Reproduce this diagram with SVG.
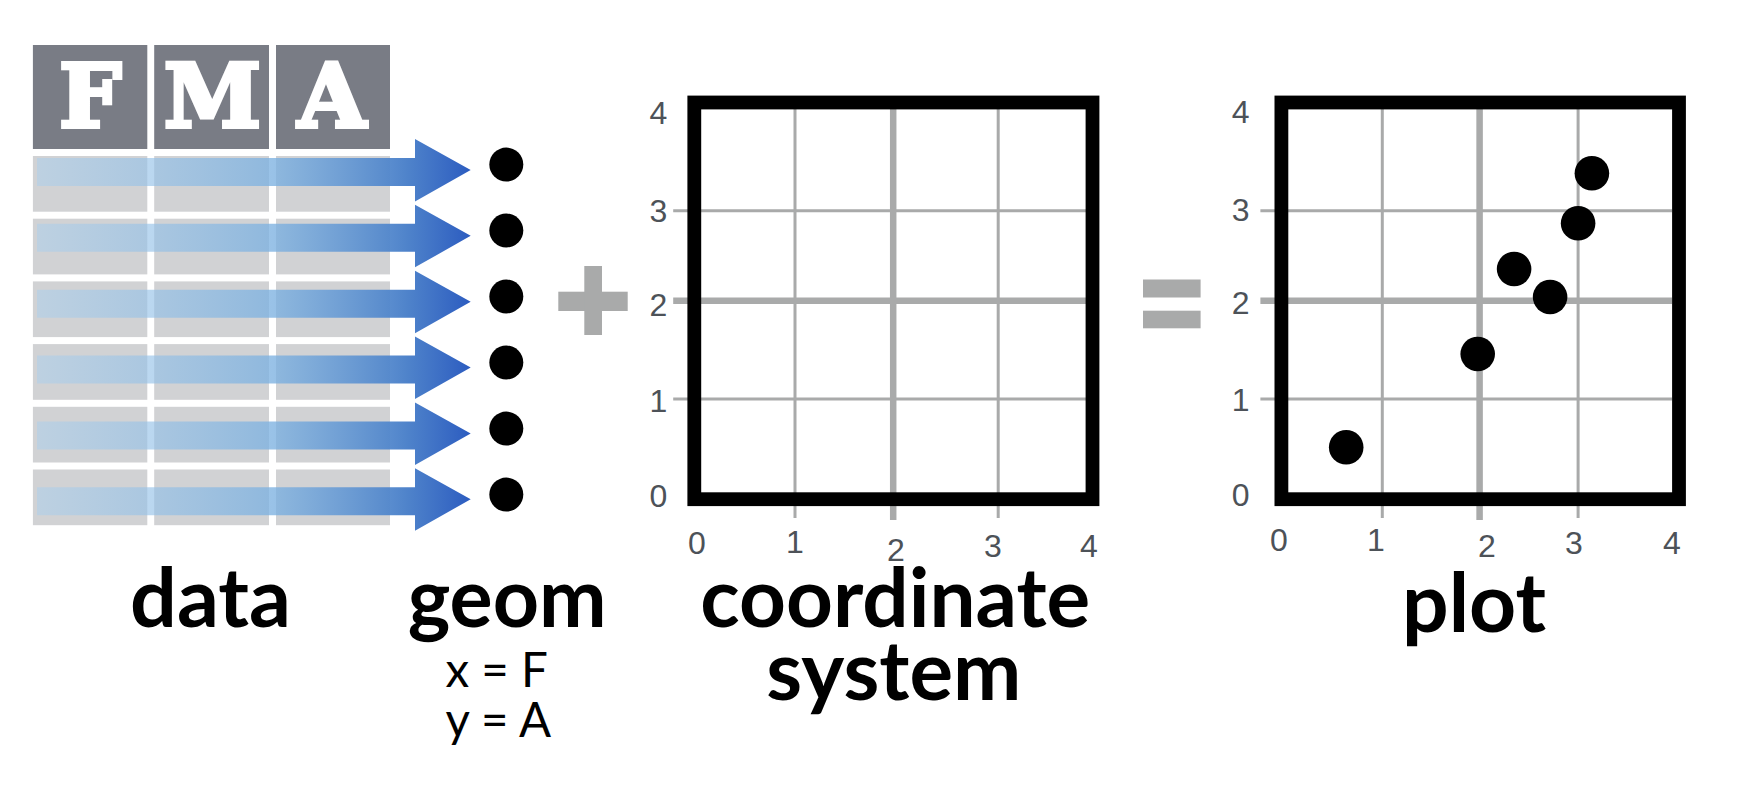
<svg xmlns="http://www.w3.org/2000/svg" width="1751" height="794" viewBox="0 0 1751 794">
<defs>
<linearGradient id="arrowGrad" gradientUnits="userSpaceOnUse" x1="37" y1="0" x2="471" y2="0">
<stop offset="0" stop-color="#a9cfee" stop-opacity="0.5"/>
<stop offset="0.55" stop-color="#7bb0e0" stop-opacity="0.78"/>
<stop offset="0.85" stop-color="#4a80c9" stop-opacity="0.97"/>
<stop offset="1" stop-color="#2c5cc0" stop-opacity="1"/>
</linearGradient>
<path id="arrowShape" d="M37,158 H415 V139 L470.7,170 L415,201.5 V186 H37 Z"/>
</defs>
<style>
.hdr{fill:#797c85}
.cell{fill:#d1d2d4}
.hdrtxt{font-family:"DejaVu Serif",serif;font-weight:bold;font-size:88px;fill:#ffffff;stroke:#ffffff;stroke-width:4;text-anchor:middle}
.arrow{fill:url(#arrowGrad)}
.dot{fill:#000000}
.op{fill:#a9aaaa}
.gthin{stroke:#a9aaaa;stroke-width:3;fill:none}
.gthick{stroke:#a9aaaa;stroke-width:6.5;fill:none}
.panel{fill:#ffffff}
.frame{fill:none;stroke:#000000;stroke-width:13.8}
.ax{font-family:"Liberation Sans",Arial,sans-serif;font-size:32px;fill:#4d5258;text-anchor:middle}
.big{font-family:Lato,"Noto Sans",sans-serif;font-weight:bold;font-size:82px;fill:#000000}
.small{font-family:Lato,"Noto Sans",sans-serif;font-size:48px;fill:#000000}
</style>
<rect width="1751" height="794" fill="#ffffff"/>

<g id="data-table">
<rect class="hdr" x="32.9" y="45" width="114.4" height="104"/>
<rect class="hdr" x="154.2" y="45" width="114.8" height="104"/>
<rect class="hdr" x="276" y="45" width="114" height="104"/>
<text class="hdrtxt" x="90.2" y="126.5">F</text>
<text class="hdrtxt" x="212.4" y="126.5">M</text>
<text class="hdrtxt" x="332" y="126.5">A</text>
<g id="row1"><rect class="cell" x="32.9" y="156" width="114.4" height="55.7"/><rect class="cell" x="154.2" y="156" width="114.8" height="55.7"/><rect class="cell" x="276" y="156" width="114" height="55.7"/></g>
<g id="row2"><rect class="cell" x="32.9" y="218.7" width="114.4" height="55.7"/><rect class="cell" x="154.2" y="218.7" width="114.8" height="55.7"/><rect class="cell" x="276" y="218.7" width="114" height="55.7"/></g>
<g id="row3"><rect class="cell" x="32.9" y="281.4" width="114.4" height="55.7"/><rect class="cell" x="154.2" y="281.4" width="114.8" height="55.7"/><rect class="cell" x="276" y="281.4" width="114" height="55.7"/></g>
<g id="row4"><rect class="cell" x="32.9" y="344.1" width="114.4" height="55.7"/><rect class="cell" x="154.2" y="344.1" width="114.8" height="55.7"/><rect class="cell" x="276" y="344.1" width="114" height="55.7"/></g>
<g id="row5"><rect class="cell" x="32.9" y="406.8" width="114.4" height="55.7"/><rect class="cell" x="154.2" y="406.8" width="114.8" height="55.7"/><rect class="cell" x="276" y="406.8" width="114" height="55.7"/></g>
<g id="row6"><rect class="cell" x="32.9" y="469.5" width="114.4" height="55.7"/><rect class="cell" x="154.2" y="469.5" width="114.8" height="55.7"/><rect class="cell" x="276" y="469.5" width="114" height="55.7"/></g>
</g>

<g id="connectors">
<use href="#arrowShape" class="arrow"/>
<use href="#arrowShape" class="arrow" transform="translate(0,65.85)"/>
<use href="#arrowShape" class="arrow" transform="translate(0,131.7)"/>
<use href="#arrowShape" class="arrow" transform="translate(0,197.55)"/>
<use href="#arrowShape" class="arrow" transform="translate(0,263.4)"/>
<use href="#arrowShape" class="arrow" transform="translate(0,329.25)"/>
</g>

<g id="geom-dots">
<circle class="dot" cx="506.3" cy="164.6" r="17"/>
<circle class="dot" cx="506.3" cy="230.5" r="17"/>
<circle class="dot" cx="506.3" cy="296.5" r="17"/>
<circle class="dot" cx="506.3" cy="362.5" r="17"/>
<circle class="dot" cx="506.3" cy="428.6" r="17"/>
<circle class="dot" cx="506.3" cy="494.6" r="17"/>
</g>

<g id="plus">
<rect class="op" x="558.3" y="291.7" width="69.4" height="19.3"/>
<rect class="op" x="584.3" y="266" width="17.7" height="69"/>
</g>

<g id="coordinate-system">
<rect class="panel" x="694.3" y="102.5" width="398.2" height="396.7"/>
<path class="gthin" d="M673.2,210.7 H1086 M673.2,399 H1086 M795,109 V518 M998.2,109 V518"/>
<path class="gthick" d="M673.2,300.7 H1086 M893.2,109 V520"/>
<rect class="frame" x="694.3" y="102.5" width="398.2" height="396.7"/>
<text class="ax" x="658.4" y="124">4</text>
<text class="ax" x="658.4" y="222">3</text>
<text class="ax" x="658.4" y="315.5">2</text>
<text class="ax" x="658.4" y="412">1</text>
<text class="ax" x="658.4" y="507">0</text>
<text class="ax" x="697" y="553.5">0</text>
<text class="ax" x="795" y="553">1</text>
<text class="ax" x="896" y="560.5">2</text>
<text class="ax" x="993" y="557">3</text>
<text class="ax" x="1089" y="557">4</text>
</g>

<g id="equals">
<rect class="op" x="1143" y="279.5" width="57.6" height="18"/>
<rect class="op" x="1143" y="310.7" width="57.6" height="17.6"/>
</g>

<g id="plot">
<rect class="panel" x="1281.4" y="102.5" width="397.6" height="396.7"/>
<path class="gthin" d="M1260.4,210.7 H1672 M1260.4,399 H1672 M1382.3,109 V518 M1578.1,109 V518"/>
<path class="gthick" d="M1260.4,300.7 H1672 M1479.6,109 V520"/>
<rect class="frame" x="1281.4" y="102.5" width="397.6" height="396.7"/>
<circle class="dot" cx="1346.2" cy="447.3" r="17.3"/>
<circle class="dot" cx="1477.7" cy="354" r="17.3"/>
<circle class="dot" cx="1514.1" cy="269" r="17.3"/>
<circle class="dot" cx="1550.1" cy="297" r="17.3"/>
<circle class="dot" cx="1578.1" cy="223.3" r="17.3"/>
<circle class="dot" cx="1591.9" cy="173.3" r="17.3"/>
<text class="ax" x="1240.7" y="123">4</text>
<text class="ax" x="1240.7" y="220.5">3</text>
<text class="ax" x="1240.7" y="313.5">2</text>
<text class="ax" x="1240.7" y="410.5">1</text>
<text class="ax" x="1240.7" y="505.5">0</text>
<text class="ax" x="1279" y="550.5">0</text>
<text class="ax" x="1376" y="550.5">1</text>
<text class="ax" x="1487" y="557">2</text>
<text class="ax" x="1574" y="553.5">3</text>
<text class="ax" x="1672" y="553.5">4</text>
</g>

<g id="labels">
<text class="big" x="130" y="626.7" textLength="161" lengthAdjust="spacingAndGlyphs">data</text>
<text class="big" x="407.7" y="626.7" textLength="199" lengthAdjust="spacingAndGlyphs">geom</text>
<text class="small" x="445.5" y="687.3" textLength="102.5" lengthAdjust="spacingAndGlyphs">x = F</text>
<text class="small" x="445.5" y="737.3" textLength="105.5" lengthAdjust="spacingAndGlyphs">y = A</text>
<text class="big" x="700.3" y="627.3" textLength="390" lengthAdjust="spacingAndGlyphs">coordinate</text>
<text class="big" x="766.3" y="700" textLength="255" lengthAdjust="spacingAndGlyphs">system</text>
<text class="big" x="1402" y="631.7" textLength="144" lengthAdjust="spacingAndGlyphs">plot</text>
</g>
</svg>
